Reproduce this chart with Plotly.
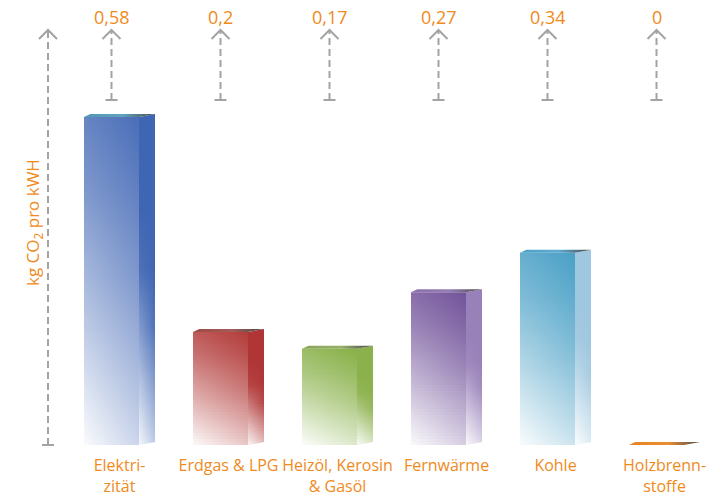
import math
import plotly.graph_objects as go

# --- data -------------------------------------------------------------
categories = ["Elektri-<br>zität", "Erdgas & LPG", "Heizöl, Kerosin<br>& Gasöl",
              "Fernwärme", "Kohle", "Holzbrenn-<br>stoffe"]
values = [0.58, 0.2, 0.17, 0.27, 0.34, 0]
front_colors = ["#4a6eb8", "#b23c3a", "#88b048", "#72539a", "#4aa0c6", "#e8821e"]
side_colors = ["#3f66b3", "#b03636", "#8bb14c", "#9880b8", "#9fc7df", "#e8821e"]
top_colors = ["#4f98b4", "#9a4a44", "#8aa65a", "#8a70ac", "#4aa2c8", "#e8821e"]

ORANGE = "#f08a1c"
GREY = "#a3a3a3"
FONT = "Open Sans"

# --- geometry (in axis units) ----------------------------------------
PX_X = 109.0     # pixels per category step
PX_Y = 565.5     # pixels per kg CO2
W, H = 718, 496
M_B = 46
PLOT_H = H - M_B
BASE_PX = 445    # pixel row of the zero line

FRONT_L, FRONT_R = -35.5 / PX_X, 19.5 / PX_X
SIDE_R = 35.5 / PX_X
DEPTH = 3 / PX_Y
STRIP_PX = 3     # height of one shading strip in pixels


def rgb(hex_color):
    h = hex_color.lstrip("#")
    return [int(h[i:i + 2], 16) for i in (0, 2, 4)]


def mix(hex_color, t):
    """Blend a hex colour towards white by fraction t."""
    r, g, b = (round(c + (255 - c) * t) for c in rgb(hex_color))
    return f"rgb({r},{g},{b})"


def interp(stops, s):
    """Piecewise linear lookup in a list of (position, value) stops."""
    s = min(max(s, 0.0), 1.0)
    for (p0, v0), (p1, v1) in zip(stops, stops[1:]):
        if s <= p1:
            return v0 + (v1 - v0) * (s - p0) / (p1 - p0)
    return stops[-1][1]


FRONT_WHITE = [(0, 0.97), (0.3, 0.62), (0.6, 0.3), (0.85, 0.1), (1, 0.0)]
SIDE_WHITE = [(0, 0.95), (0.2, 0.55), (0.45, 0.08), (0.6, 0.0), (1, 0.0)]


def face(xs, ys, gradient):
    return go.Scatter(x=xs + [xs[0]], y=ys + [ys[0]], mode="lines", fill="toself",
                      line=dict(width=0, color="rgba(0,0,0,0)"),
                      fillgradient=gradient, hoverinfo="skip", showlegend=False)


def shaded_face(fig, x0, x1, y_bot0, y_bot1, y_top0, y_top1, color, stops, wv, wu):
    """Fill a (possibly skewed) face with a diagonal colour ramp, built
    from thin horizontal strips that each carry a horizontal gradient."""
    n = max(1, math.ceil((y_top0 - y_bot0) * PX_Y / STRIP_PX))
    overlap = 1.0 / PX_Y
    for k in range(n):
        f0, f1 = k / n, (k + 1) / n
        fm = (f0 + f1) / 2
        extra = overlap if k < n - 1 else 0
        yl0 = y_bot0 + (y_top0 - y_bot0) * f0
        yl1 = y_bot0 + (y_top0 - y_bot0) * f1 + extra
        yr0 = y_bot1 + (y_top1 - y_bot1) * f0
        yr1 = y_bot1 + (y_top1 - y_bot1) * f1 + extra
        left = mix(color, interp(stops, wv * fm))
        right = mix(color, interp(stops, wv * fm + wu))
        fig.add_trace(face([x0, x1, x1, x0], [yl0, yr0, yr1, yl1],
                           dict(type="horizontal",
                                colorscale=[[0, left], [1, right]])))


fig = go.Figure()

for i, (v, fc, sc, tc) in enumerate(zip(values, front_colors, side_colors, top_colors)):
    xl, xr, xs = i + FRONT_L, i + FRONT_R, i + SIDE_R
    if v > 0:
        # front face: colour at the top right, white towards the bottom left
        shaded_face(fig, xl, xr, 0, 0, v, v, fc, FRONT_WHITE, 0.78, 0.22)
        # side face
        shaded_face(fig, xr, xs, 0, DEPTH, v, v + DEPTH, sc, SIDE_WHITE, 0.85, 0.15)
    # top face
    fig.add_trace(face([xl, xr, xs, xl + 0.4 * (SIDE_R - FRONT_R)],
                       [v, v, v + DEPTH, v + DEPTH],
                       dict(type="horizontal",
                            colorscale=[[0, tc], [0.55, mix(tc, 0.1)], [1, "#4a4a4a"]])))

# --- dashed arrows and value labels ----------------------------------
arrow_top = (BASE_PX - 30) / PX_Y
arrow_bottom = (BASE_PX - 100) / PX_Y
label_y = (BASE_PX - 17) / PX_Y
dash = "7px,4px"
chevron = "M -9 -9 L 0 0 L 9 -9"

shapes = []
annotations = []


def arrow(x, y0, y1):
    shapes.append(dict(type="line", xref="x", yref="y", x0=x, x1=x, y0=y0, y1=y1,
                       line=dict(color=GREY, width=2, dash=dash), layer="above"))
    shapes.append(dict(type="path", xref="x", yref="y", xsizemode="pixel",
                       ysizemode="pixel", xanchor=x, yanchor=y1, path=chevron,
                       line=dict(color=GREY, width=2), layer="above"))
    shapes.append(dict(type="path", xref="x", yref="y", xsizemode="pixel",
                       ysizemode="pixel", xanchor=x, yanchor=y0, path="M -6 0 L 6 0",
                       line=dict(color=GREY, width=2), layer="above"))


for i, v in enumerate(values):
    xc = i + (FRONT_L + FRONT_R) / 2
    arrow(xc, arrow_bottom, arrow_top)
    annotations.append(dict(x=xc, y=label_y, xref="x", yref="y",
                            text=f"{v:g}".replace(".", ","), showarrow=False,
                            font=dict(family=FONT, size=18, color=ORANGE),
                            xanchor="center", yanchor="middle"))

# value axis drawn as a dashed arrow
axis_x = (48 - 119.5) / PX_X
arrow(axis_x, 0, arrow_top)

annotations.append(dict(x=33 / W, y=(PLOT_H - 223) / PLOT_H, xref="paper", yref="paper",
                        text="kg CO<sub>2</sub> pro kWH", textangle=-90, showarrow=False,
                        font=dict(family=FONT, size=17, color=ORANGE),
                        xanchor="center", yanchor="middle"))

x_min = -119.5 / PX_X
fig.update_layout(
    width=W, height=H,
    margin=dict(l=0, r=0, t=0, b=M_B),
    paper_bgcolor="white", plot_bgcolor="white",
    shapes=shapes, annotations=annotations,
    xaxis=dict(range=[x_min, x_min + W / PX_X], tickvals=list(range(len(categories))),
               ticktext=categories, showgrid=False, zeroline=False, showline=False,
               ticks="", tickangle=0, automargin=False,
               tickfont=dict(family=FONT, size=16, color=ORANGE),
               ticklabelstandoff=4, fixedrange=True),
    yaxis=dict(range=[-(PLOT_H - BASE_PX) / PX_Y, BASE_PX / PX_Y], visible=False,
               fixedrange=True, automargin=False),
)

fig.write_html("out.html")
